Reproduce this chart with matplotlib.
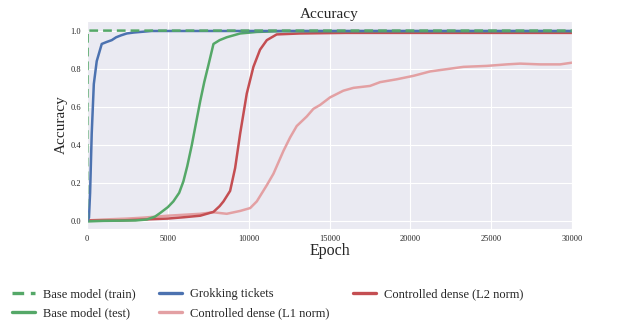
import numpy as np
import matplotlib.pyplot as plt
import seaborn as sns

sns.set_style("darkgrid")
plt.rcParams['font.family'] = ['Liberation Serif', 'DejaVu Serif']

# Data
train_epoch = [0, 20, 40, 30000]
train_acc = [0.0, 0.5, 1.0, 1.0]

ticket_epoch = [0, 120, 190, 290, 420, 600, 910, 1200, 1530, 1800, 2100, 2460, 2900, 4000, 30000]
ticket_acc = [0.0, 0.02, 0.15, 0.46, 0.72, 0.84, 0.93, 0.94, 0.95, 0.965, 0.975, 0.985, 0.99, 0.998, 0.998]

test_epoch = [0, 1000, 2000, 3000, 3690, 4200, 4520, 5000, 5340, 5700, 5960, 6200, 6480, 6750, 7000,
              7250, 7510, 7820, 8200, 8640, 9470, 10500, 12000, 30000]
test_acc = [0.0, 0.003, 0.004, 0.005, 0.01, 0.025, 0.044, 0.075, 0.105, 0.15, 0.21, 0.29, 0.40, 0.52, 0.63,
            0.73, 0.82, 0.93, 0.95, 0.965, 0.985, 0.993, 0.997, 0.997]

l2_epoch = [0, 2000, 3500, 5000, 6000, 7000, 7820, 8200, 8440, 8850, 9160, 9470, 9880, 10290, 10700,
            11120, 11730, 13170, 16000, 30000]
l2_acc = [0.005, 0.005, 0.01, 0.015, 0.022, 0.03, 0.05, 0.08, 0.105, 0.16, 0.28, 0.46, 0.67, 0.81, 0.90,
          0.95, 0.98, 0.985, 0.988, 0.988]

l1_epoch = [0, 1000, 2500, 3500, 5000, 6000, 7000, 7800, 8640, 9470, 10090, 10500, 11120, 11530, 12150,
            12560, 12970, 13590, 14000, 14410, 15030, 15850, 16480, 17500, 18130, 19160, 20190, 21220,
            22250, 23280, 24720, 25960, 26780, 28020, 29260, 30000]
l1_acc = [0.005, 0.01, 0.015, 0.02, 0.03, 0.035, 0.04, 0.048, 0.04, 0.055, 0.07, 0.105, 0.19, 0.25, 0.37,
          0.44, 0.50, 0.55, 0.59, 0.61, 0.65, 0.685, 0.70, 0.71, 0.73, 0.745, 0.763, 0.786,
          0.798, 0.81, 0.815, 0.823, 0.827, 0.823, 0.823, 0.832]

green = '#55a868'
blue = '#4c72b0'
red = '#c44e52'
pink = '#e3a0a3'

fig = plt.figure(figsize=(6.32, 3.24), dpi=100)
ax = fig.add_axes([0.1377, 0.293, 0.7675, 0.642])

lw = 1.8
ax.plot(l1_epoch, l1_acc, color=pink, lw=lw, label='Controlled dense (L1 norm)')
ax.plot(l2_epoch, l2_acc, color=red, lw=lw, label='Controlled dense (L2 norm)')
ax.plot(test_epoch, test_acc, color=green, lw=lw, label='Base model (test)')
ax.plot(ticket_epoch, ticket_acc, color=blue, lw=lw, label='Grokking tickets')
ax.plot(train_epoch, train_acc, color=green, lw=lw, ls=(0, (3.5, 2)), label='Base model (train)')

ax.set_xlim(0, 30000)
ax.set_ylim(-0.04, 1.05)
ax.set_xticks(np.arange(0, 30001, 5000))
ax.set_yticks(np.arange(0, 1.01, 0.2))
ax.set_yticklabels([f'{v:.1f}' for v in np.arange(0, 1.01, 0.2)])
ax.tick_params(labelsize=6, pad=1)
ax.set_title('Accuracy', fontsize=11, pad=2)
ax.set_xlabel('Epoch', fontsize=11.5, labelpad=0)
ax.set_ylabel('Accuracy', fontsize=11, labelpad=2)

handles, labels = ax.get_legend_handles_labels()
order = ['Base model (train)', 'Base model (test)', 'Grokking tickets',
         'Controlled dense (L1 norm)', 'Controlled dense (L2 norm)']
h = [handles[labels.index(o)] for o in order]
leg = fig.legend(h, order, loc='upper left', bbox_to_anchor=(0.011, 0.126), ncol=3, frameon=False,
                 fontsize=9, handlelength=1.85, handletextpad=0.65, columnspacing=1.85,
                 labelspacing=0.55, borderaxespad=0)
for line in leg.get_lines():
    line.set_linewidth(2.4)

fig.savefig('out.png', dpi=100)
